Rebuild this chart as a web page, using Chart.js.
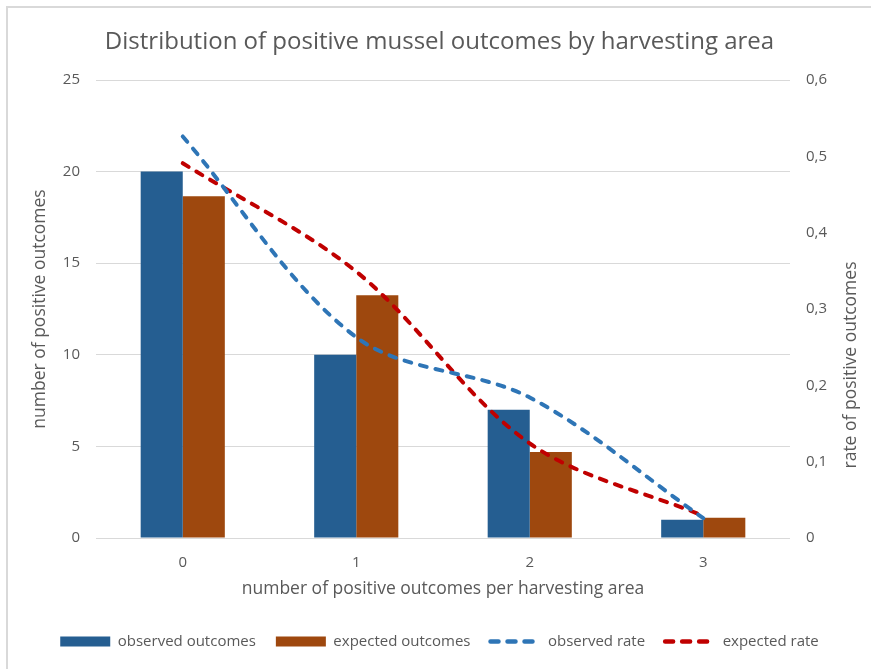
<!DOCTYPE html>
<html>
<head>
<meta charset="utf-8">
<title>Distribution of positive mussel outcomes</title>
<script src="https://cdn.jsdelivr.net/npm/chart.js@4"></script>
<style>
    body { margin: 0; background: #fff; }
    #frame {
        position: absolute;
        left: 6px;
        top: 6px;
        border-left: 2px solid #d9d9d9;
        border-top: 2px solid #d9d9d9;
    }
    #musselChart { display: block; }
</style>
</head>
<body>
<div id="frame">
    <canvas id="musselChart" width="863" height="661"></canvas>
</div>

<script>
// 🔹 DATA
let categories = ["0", "1", "2", "3"];
let observedOutcomes = [20, 10, 7, 1];
let expectedOutcomes = [18.65, 13.25, 4.7, 1.1];
let observedRate = [0.526, 0.263, 0.184, 0.026];
let expectedRate = [0.491, 0.349, 0.124, 0.029];
let leftTicks = [0, 5, 10, 15, 20, 25];
let rightTicks = [0, 0.1, 0.2, 0.3, 0.4, 0.5, 0.6];

const textColor = "#595959";
const fontName = "'Open Sans', sans-serif";
const rightTitle = "rate of positive outcomes";

// comma as decimal separator, like the original
function commaNumber(v) {
    return String(Math.round(v * 10) / 10).replace(".", ",");
}

// 🔹 LEGEND ITEMS (boxes for bars, dashed lines for rates)
function legendItems(chart) {
    return chart.data.datasets.map((ds, i) => {
        let isLine = ds.type === "line";
        return {
            text: ds.label,
            datasetIndex: i,
            fillStyle: isLine ? "rgba(0,0,0,0)" : ds.backgroundColor,
            strokeStyle: isLine ? ds.borderColor : ds.backgroundColor,
            lineWidth: isLine ? 4.5 : 0,
            lineDash: isLine ? [8, 9] : [],
            lineCap: isLine ? "round" : "butt",
            pointStyle: isLine ? "line" : "rect",
            fontColor: textColor,
            hidden: false
        };
    });
}

// 🔹 RIGHT AXIS TITLE (Excel reads it bottom-to-top, Chart.js turns it the other way)
const rightTitlePlugin = {
    id: "rightTitle",
    afterDraw(chart) {
        let scale = chart.scales.y1;
        let c = chart.ctx;
        c.save();
        c.translate(scale.right - 20, (chart.chartArea.top + chart.chartArea.bottom) / 2 + 56);
        c.rotate(-Math.PI / 2);
        c.fillStyle = textColor;
        c.font = "17.5px " + fontName;
        c.textAlign = "center";
        c.textBaseline = "middle";
        c.fillText(rightTitle, 0, 0);
        c.restore();
    }
};

// 🔹 CHART
const ctx = document.getElementById("musselChart").getContext("2d");

let chart = new Chart(ctx, {
    type: "bar",
    data: {
        labels: categories,
        datasets: [
            {
                label: "observed outcomes",
                data: observedOutcomes,
                backgroundColor: "#255e91",
                yAxisID: "y",
                order: 2,
                barPercentage: 1,
                categoryPercentage: 0.485
            },
            {
                label: "expected outcomes",
                data: expectedOutcomes,
                backgroundColor: "#9e480e",
                yAxisID: "y",
                order: 2,
                barPercentage: 1,
                categoryPercentage: 0.485
            },
            {
                type: "line",
                label: "observed rate",
                data: observedRate,
                borderColor: "#2e75b6",
                backgroundColor: "#2e75b6",
                borderWidth: 4,
                borderDash: [7, 9],
                borderCapStyle: "round",
                tension: 0.33,
                pointRadius: 0,
                fill: false,
                yAxisID: "y1",
                order: 1
            },
            {
                type: "line",
                label: "expected rate",
                data: expectedRate,
                borderColor: "#c00000",
                backgroundColor: "#c00000",
                borderWidth: 4,
                borderDash: [7, 9],
                borderCapStyle: "round",
                tension: 0.33,
                pointRadius: 0,
                fill: false,
                yAxisID: "y1",
                order: 1
            }
        ]
    },
    options: {
        responsive: false,
        animation: false,
        layout: {
            padding: { left: 0, right: 0, top: 0, bottom: 10 }
        },
        plugins: {
            title: {
                display: true,
                text: "Distribution of positive mussel outcomes by harvesting area",
                color: textColor,
                font: { family: fontName, size: 24, weight: "normal", lineHeight: 1.2 },
                padding: { top: 19.6, bottom: 23.6 }
            },
            legend: {
                position: "bottom",
                labels: {
                    usePointStyle: true,
                    pointStyleWidth: 50,
                    boxHeight: 10,
                    padding: 20,
                    color: textColor,
                    font: { family: fontName, size: 15 },
                    generateLabels: legendItems
                },
                onClick: null
            },
            tooltip: { enabled: false }
        },
        scales: {
            x: {
                grid: { display: false, drawTicks: false },
                border: { display: false },
                ticks: {
                    color: textColor,
                    font: { family: fontName, size: 15 },
                    padding: 16
                },
                title: {
                    display: true,
                    text: "number of positive outcomes per harvesting area",
                    color: textColor,
                    font: { family: fontName, size: 17.5, lineHeight: 1.2 },
                    padding: { top: 0, bottom: 14.5 }
                },
                afterFit: function(scale) { scale.height = 76; }
            },
            y: {
                position: "left",
                min: leftTicks[0],
                max: leftTicks[leftTicks.length - 1],
                afterBuildTicks: function(scale) {
                    scale.ticks = leftTicks.map(v => ({ value: v }));
                },
                grid: { color: "#d9d9d9", lineWidth: 1, drawTicks: false },
                border: { display: false },
                ticks: {
                    color: textColor,
                    font: { family: fontName, size: 15 },
                    padding: 16
                },
                title: {
                    display: true,
                    text: "number of positive outcomes",
                    color: textColor,
                    font: { family: fontName, size: 17.5, lineHeight: 1.2 },
                    padding: { top: 21.5, bottom: 0 }
                },
                afterFit: function(scale) { scale.width = 88; }
            },
            y1: {
                position: "right",
                min: rightTicks[0],
                max: rightTicks[rightTicks.length - 1],
                afterBuildTicks: function(scale) {
                    scale.ticks = rightTicks.map(v => ({ value: v }));
                },
                grid: { display: false, drawTicks: false },
                border: { display: false },
                ticks: {
                    color: textColor,
                    font: { family: fontName, size: 15 },
                    padding: 16,
                    callback: function(v) { return commaNumber(v); }
                },
                afterFit: function(scale) { scale.width = 81; }
            }
        }
    },
    plugins: [rightTitlePlugin]
});
</script>
</body>
</html>
